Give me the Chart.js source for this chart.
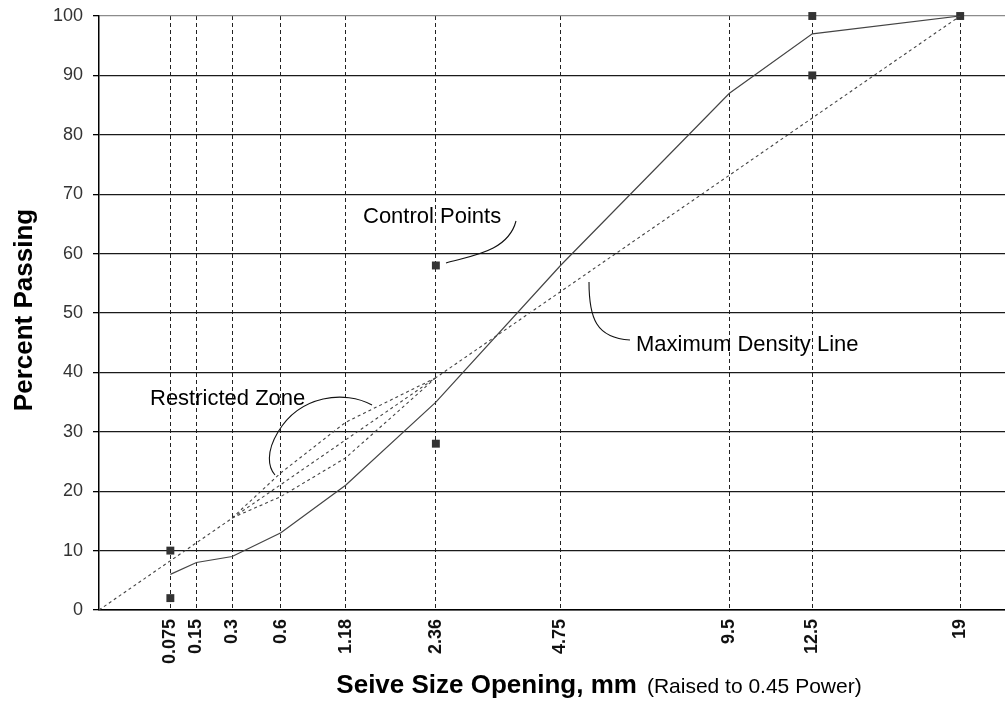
<!DOCTYPE html>
<html>
<head>
<meta charset="utf-8">
<title>Gradation Chart - 0.45 Power</title>
<script src="https://cdn.jsdelivr.net/npm/chart.js@4.4.1/dist/chart.umd.min.js"></script>
<style>
  html, body { margin: 0; padding: 0; background: #fff; }
  #wrap { width: 1005px; height: 701px; position: relative; }
</style>
</head>
<body>
<div id="wrap"><canvas id="chart"></canvas></div>
<script>
// Sieve sizes (mm) and their axis labels
const sieveSizes  = [0.075, 0.15, 0.3, 0.6, 1.18, 2.36, 4.75, 9.5, 12.5, 19];
const sieveLabels = ['0.075', '0.15', '0.3', '0.6', '1.18', '2.36', '4.75', '9.5', '12.5', '19'];

// Aggregate gradation, percent passing
const gradationPassing = [6, 8, 9, 13, 21, 35, 58, 87, 97, 100];

// Maximum density line: origin to 100 % at the maximum size
const maxDensitySieves  = [0, 19];
const maxDensityPassing = [0, 100];

// Control points
const controlSieves  = [0.075, 0.075, 2.36, 2.36, 12.5, 12.5, 19];
const controlPassing = [2, 10, 28, 58, 90, 100, 100];

// Restricted zone boundaries
const zoneSieves = [0.3, 0.6, 1.18, 2.36];
const zoneUpper  = [15.5, 23.1, 31.6, 39.1];
const zoneLower  = [15.5, 19.1, 25.6, 39.1];

// Percent passing ticks
const passingTicks = [0, 10, 20, 30, 40, 50, 60, 70, 80, 90, 100];

// Horizontal axis: sieve size raised to the 0.45 power
const POWER = 0.45;
const xAxisMax = 3.958;
const toAxis = s => Math.pow(s, POWER);
const toPoints = (sizes, values) => sizes.map((s, i) => ({ x: toAxis(s), y: values[i] }));

const FONT = '"Liberation Sans", Arial, Helvetica, sans-serif';
Chart.defaults.font.family = FONT;

// Axis titles and callout labels drawn on top of the plot
const annotations = {
  id: 'annotations',
  afterDraw(chart) {
    const ctx = chart.ctx;
    ctx.save();
    ctx.fillStyle = '#000';

    // Y title
    ctx.save();
    ctx.font = 'bold 26px ' + FONT;
    ctx.textAlign = 'center';
    ctx.textBaseline = 'alphabetic';
    ctx.translate(32, (chart.chartArea.top + chart.chartArea.bottom) / 2 - 3);
    ctx.rotate(-Math.PI / 2);
    ctx.fillText('Percent Passing', 0, 0);
    ctx.restore();

    // X title (bold part + regular note)
    const main = 'Seive Size Opening, mm';
    const note = '(Raised to 0.45 Power)';
    ctx.textBaseline = 'alphabetic';
    ctx.textAlign = 'left';
    ctx.font = 'bold 26px ' + FONT;
    const wMain = ctx.measureText(main).width;
    ctx.font = '21px ' + FONT;
    const wNote = ctx.measureText(note).width;
    const gap = 10;
    const startX = 599 - (wMain + gap + wNote) / 2;
    ctx.font = 'bold 26px ' + FONT;
    ctx.fillText(main, startX, 693);
    ctx.font = '21px ' + FONT;
    ctx.fillText(note, startX + wMain + gap, 693);

    // Callout texts
    ctx.font = '22px ' + FONT;
    ctx.textBaseline = 'middle';
    ctx.fillText('Control Points', 363, 217);
    ctx.fillText('Maximum Density Line', 636, 345);
    ctx.fillText('Restricted Zone', 150, 399);

    // Callout leader curves
    ctx.strokeStyle = '#111';
    ctx.lineWidth = 1.1;
    ctx.beginPath();
    ctx.moveTo(446, 263);
    ctx.bezierCurveTo(470, 256, 508, 252, 516, 221);
    ctx.stroke();

    ctx.beginPath();
    ctx.moveTo(589, 282);
    ctx.bezierCurveTo(589, 318, 596, 338, 630, 340);
    ctx.stroke();

    ctx.beginPath();
    ctx.moveTo(372, 405);
    ctx.bezierCurveTo(345, 390, 300, 395, 278, 432);
    ctx.bezierCurveTo(266, 452, 268, 467, 275, 475);
    ctx.stroke();

    ctx.restore();
  }
};

const dashedLine = (data) => ({
  data,
  showLine: true,
  borderColor: '#444',
  borderWidth: 1.1,
  borderDash: [3, 3],
  pointRadius: 0,
  fill: false,
  tension: 0
});

new Chart(document.getElementById('chart'), {
  type: 'scatter',
  data: {
    datasets: [
      Object.assign(dashedLine(toPoints(maxDensitySieves, maxDensityPassing)), { label: 'Maximum Density Line' }),
      Object.assign(dashedLine(toPoints(zoneSieves, zoneUpper)), { label: 'Restricted Zone Upper' }),
      Object.assign(dashedLine(toPoints(zoneSieves, zoneLower)), { label: 'Restricted Zone Lower' }),
      {
        label: 'Gradation',
        data: toPoints(sieveSizes, gradationPassing),
        showLine: true,
        borderColor: '#444',
        borderWidth: 1.2,
        pointRadius: 0,
        fill: false,
        tension: 0
      },
      {
        label: 'Control Points',
        data: toPoints(controlSieves, controlPassing),
        showLine: false,
        clip: false,
        pointStyle: 'rect',
        pointRadius: 5.6,
        pointBackgroundColor: '#333',
        pointBorderColor: '#333',
        pointBorderWidth: 0
      }
    ]
  },
  options: {
    responsive: true,
    maintainAspectRatio: false,
    animation: false,
    layout: { autoPadding: false, padding: { top: 16, right: 0, left: 0, bottom: 0 } },
    plugins: {
      legend: { display: false },
      tooltip: { enabled: false }
    },
    scales: {
      x: {
        type: 'linear',
        min: 0,
        max: xAxisMax,
        afterFit: scale => {
          scale.height = 91;
          scale.paddingLeft = 0;
          scale.paddingRight = 0;
        },
        afterBuildTicks: scale => {
          scale.ticks = sieveSizes.map(s => ({ value: toAxis(s) }));
        },
        ticks: {
          autoSkip: false,
          minRotation: 90,
          maxRotation: 90,
          padding: 9,
          color: '#111',
          font: { size: 18, weight: 'bold' },
          callback: (value, index) => sieveLabels[index]
        },
        grid: {
          color: '#222',
          lineWidth: 1,
          drawTicks: false
        },
        border: { display: true, color: '#000', width: 1.5, dash: [4, 3] }
      },
      y: {
        type: 'linear',
        min: 0,
        max: 100,
        afterFit: scale => {
          scale.width = 99;
          scale.paddingTop = 0;
          scale.paddingBottom = 0;
        },
        afterBuildTicks: scale => {
          scale.ticks = passingTicks.map(v => ({ value: v }));
        },
        ticks: {
          padding: 10,
          color: '#333',
          font: { size: 18 }
        },
        grid: {
          color: ctx => (ctx.tick && ctx.tick.value === 100) ? '#8c8c8c' : '#1a1a1a',
          lineWidth: 1.3,
          drawTicks: true,
          tickLength: 6,
          tickColor: '#000',
          tickWidth: 1.3
        },
        border: { display: true, color: '#000', width: 1.5 }
      }
    }
  },
  plugins: [annotations]
});
</script>
</body>
</html>
